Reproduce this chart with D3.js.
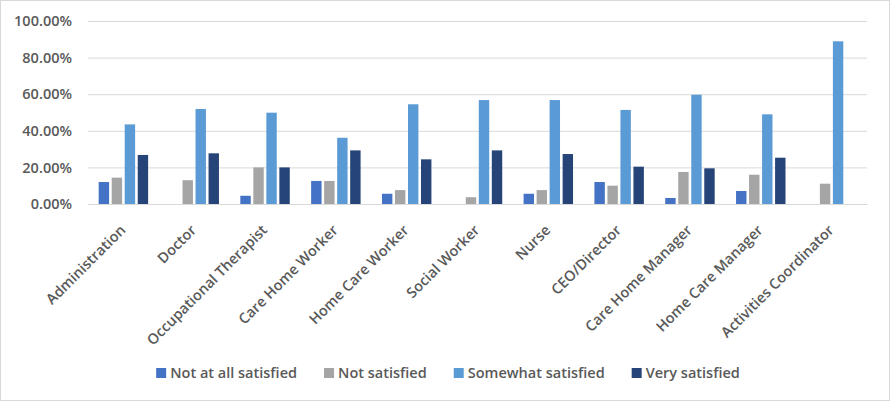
<!DOCTYPE html>
<html>
<head>
<meta charset="utf-8">
<script src="https://cdn.jsdelivr.net/npm/d3@7"></script>
<style>
  body { margin: 0; background: #fff; }
  text { font-family: "Open Sans", "Liberation Sans", Arial, sans-serif; }
</style>
</head>
<body>
<div id="chart"></div>
<script>
// categories and series (fractions)
const categories = ["Administration", "Doctor", "Occupational Therapist", "Care Home Worker",
  "Home Care Worker", "Social Worker", "Nurse", "CEO/Director", "Care Home Manager",
  "Home Care Manager", "Activities Coordinator"];
const seriesNames = ["Not at all satisfied", "Not satisfied", "Somewhat satisfied", "Very satisfied"];
const notAtAll   = [0.120, 0,     0.045, 0.126, 0.056, 0,     0.056, 0.120, 0.033, 0.071, 0];
const notSat     = [0.144, 0.130, 0.200, 0.126, 0.076, 0.037, 0.076, 0.100, 0.175, 0.160, 0.111];
const somewhat   = [0.435, 0.519, 0.499, 0.362, 0.545, 0.568, 0.568, 0.514, 0.597, 0.490, 0.889];
const verySat    = [0.268, 0.277, 0.200, 0.293, 0.244, 0.293, 0.273, 0.204, 0.195, 0.253, 0];
const yTicks = [0, 0.2, 0.4, 0.6, 0.8, 1.0];
const colors = ["#4472C4", "#A5A5A5", "#5B9BD5", "#264478"];

const allSeries = [notAtAll, notSat, somewhat, verySat];

const W = 890, H = 401;
const margin = { top: 21, right: 23, bottom: 197, left: 88 };
const width = W - margin.left - margin.right;
const height = H - margin.top - margin.bottom;
const fontSize = "14.5px";
const fontWeight = 600;
const textColor = "#595959";

const svg = d3.select("#chart").append("svg")
    .attr("width", W)
    .attr("height", H);

svg.append("rect")
    .attr("x", 0.5).attr("y", 0.5)
    .attr("width", W - 1).attr("height", H - 1)
    .attr("fill", "#fff")
    .attr("stroke", "#d9d9d9");

const g = svg.append("g")
    .attr("transform", `translate(${margin.left},${margin.top})`);

const x0 = d3.scaleBand()
    .domain(categories)
    .range([0, width])
    .paddingInner(0.265)
    .paddingOuter(0.1325);

const x1 = d3.scaleBand()
    .domain(d3.range(seriesNames.length))
    .range([0, x0.bandwidth()])
    .paddingInner(0.2)
    .paddingOuter(0.1);

const y = d3.scaleLinear()
    .domain([0, 1])
    .range([height, 0]);

// gridlines + y labels
const yAxis = d3.axisLeft(y)
    .tickValues(yTicks)
    .tickSize(-width)
    .tickPadding(16)
    .tickFormat(d3.format(".2%"));

g.append("g")
    .call(yAxis)
    .call(s => s.select(".domain").remove())
    .call(s => s.selectAll(".tick line").attr("stroke", "#d9d9d9"))
    .call(s => s.selectAll(".tick text")
        .attr("fill", textColor)
        .style("font-size", fontSize)
        .style("font-weight", fontWeight)
        .style("font-family", "'Open Sans', sans-serif"));

// bars
const groups = g.selectAll(".cat")
    .data(categories)
    .join("g")
    .attr("class", "cat")
    .attr("transform", d => `translate(${x0(d)},0)`);

groups.selectAll("rect")
    .data((d, i) => allSeries.map((s, k) => ({ k: k, v: s[i] })))
    .join("rect")
    .attr("x", d => x1(d.k))
    .attr("width", x1.bandwidth())
    .attr("y", d => y(d.v))
    .attr("height", d => height - y(d.v))
    .attr("fill", d => colors[d.k]);

// category axis
const xAxis = d3.axisBottom(x0).tickSize(0).tickPadding(0);
g.append("g")
    .attr("transform", `translate(0,${height})`)
    .call(xAxis)
    .call(s => s.select(".domain").attr("stroke", "#d9d9d9"))
    .call(s => s.selectAll(".tick text")
        .attr("fill", textColor)
        .style("font-size", fontSize)
        .style("font-weight", fontWeight)
        .style("font-family", "'Open Sans', sans-serif")
        .attr("text-anchor", "end")
        .attr("dy", null)
        .attr("transform", "translate(3,27) rotate(-45)"));

// legend
const legend = svg.append("g").attr("transform", "translate(0,373)");
const items = legend.selectAll(".item")
    .data(seriesNames)
    .join("g")
    .attr("class", "item");

items.append("rect")
    .attr("y", -5)
    .attr("width", 10)
    .attr("height", 10)
    .attr("fill", (d, i) => colors[i]);

items.append("text")
    .attr("x", 14)
    .attr("dy", "0.35em")
    .attr("fill", textColor)
    .style("font-size", fontSize)
    .style("font-weight", fontWeight)
    .text(d => d);

let widths = [];
items.each(function () { widths.push(this.getBBox().width); });
const gap = 27;
const total = d3.sum(widths) + gap * (widths.length - 1);
let cx = 448 - total / 2;
items.each(function (d, i) {
    d3.select(this).attr("transform", `translate(${cx},0)`);
    cx += widths[i] + gap;
});
</script>
</body>
</html>
